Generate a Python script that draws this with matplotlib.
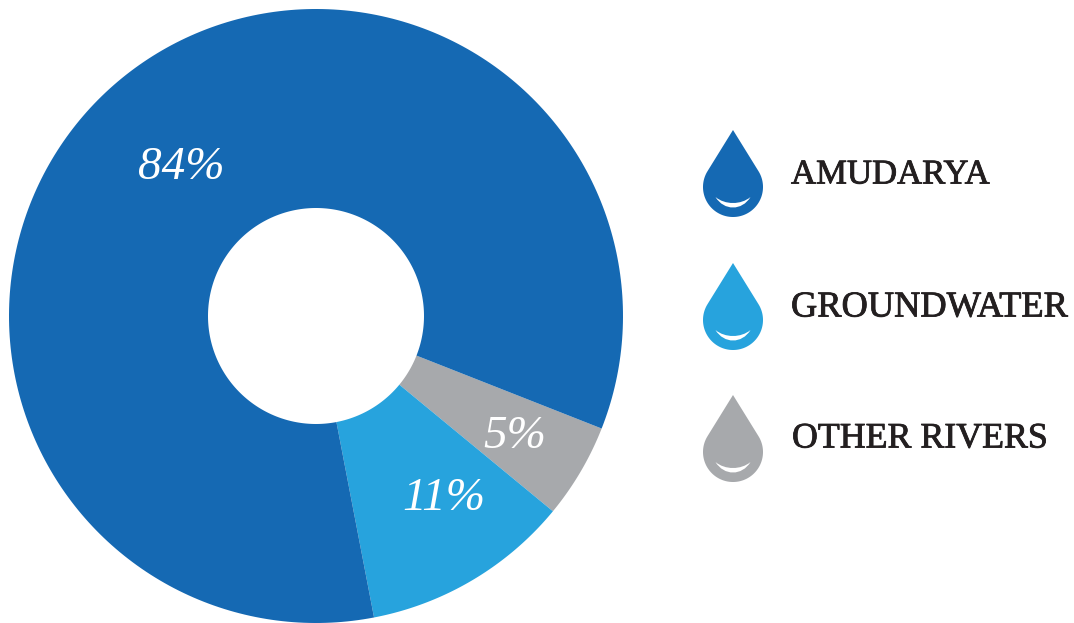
import numpy as np
import matplotlib
matplotlib.use("Agg")
import matplotlib.pyplot as plt
import matplotlib.patheffects as pe
from matplotlib.path import Path
from matplotlib.patches import PathPatch

labels = ["AMUDARYA", "GROUNDWATER", "OTHER RIVERS"]
values = [84, 11, 5]
colors = ["#1569b3", "#27a3dd", "#a7a9ac"]
pct_labels = ["84%", "11%", "5%"]

W, H = 1074, 623
plt.rcParams["font.family"] = ["Liberation Serif", "DejaVu Serif"]

fig = plt.figure(figsize=(W / 100, H / 100), dpi=100)
ax = fig.add_axes([0, 0, 1, 1])
ax.set_xlim(0, W)
ax.set_ylim(H, 0)
ax.axis("off")

cx, cy, r_out, r_in = 316, 316, 307, 108


def to_xy(rad, ang):
    # angle in degrees, clockwise on screen because y points down
    a = np.deg2rad(ang)
    return cx + rad * np.cos(a), cy + rad * np.sin(a)


def ring_path(a0, a1):
    t = np.linspace(a0, a1, 300)
    xo, yo = to_xy(r_out, t)
    xi, yi = to_xy(r_in, t[::-1])
    return Path(np.concatenate([np.c_[xo, yo], np.c_[xi, yi]]))


# slices go clockwise: grey, light blue, then the big blue one
a = 21.5
for v, c in zip(values[::-1], colors[::-1]):
    span = v / sum(values) * 360
    ax.add_patch(PathPatch(ring_path(a, a + span), fc=c, ec="none", lw=0))
    a += span

pct_pos = [(181, 168), (444, 499), (515, 437)]
for s, (x, y) in zip(pct_labels, pct_pos):
    ax.text(x, y, s, color="white", fontsize=34, style="italic", ha="center", va="center")


def drop(x, top, color):
    # straight sided tip running into a round belly
    r = 30
    c = top + 87 - r
    tang = np.arccos(r / (c - top))
    t = np.linspace(-np.pi / 2 + tang, 3 * np.pi / 2 - tang, 120)
    xs = np.r_[x, x + r * np.cos(t)]
    ys = np.r_[top, c + r * np.sin(t)]
    ax.fill(xs, ys, color=color, lw=0)
    # white crescent near the bottom
    hx, hy = 17.5, c + 10
    verts = [(x - hx, hy), (x - 9, hy + 14), (x + 9, hy + 14), (x + hx, hy),
             (x + 8, hy + 8), (x - 8, hy + 8), (x - hx, hy), (x - hx, hy)]
    codes = [Path.MOVETO, Path.CURVE4, Path.CURVE4, Path.CURVE4,
             Path.CURVE4, Path.CURVE4, Path.CURVE4, Path.CLOSEPOLY]
    ax.add_patch(PathPatch(Path(verts, codes), fc="white", ec="none", lw=0))


drop_tops = [130, 263, 395]
text_x = [791, 791, 792]
text_y = [175, 308, 439]
text_size = [25, 26.2, 25.8]
for lab, c, top, x, y, fs in zip(labels, colors, drop_tops, text_x, text_y, text_size):
    drop(733, top, c)
    ax.text(x, y, lab, color="#231f20", fontsize=fs, ha="left", va="center",
            path_effects=[pe.withStroke(linewidth=0.6, foreground="#231f20")])

fig.savefig("out.png", dpi=100)
